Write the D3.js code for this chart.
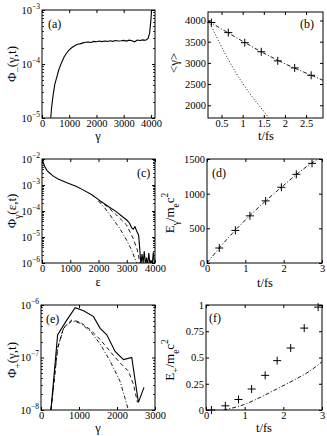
<!DOCTYPE html>
<html>
<head>
<meta charset="utf-8">
<script src="https://cdn.jsdelivr.net/npm/d3@7"></script>
<style>
  body { margin: 0; background: #fff; }
  svg { display: block; }
  svg text { font-family: "Liberation Serif", "DejaVu Serif", serif !important; fill: #000; }
</style>
</head>
<body>
<svg id="fig" width="327" height="436"></svg>
<script>
// Panel (a): spectrum Phi_-(gamma,t).
var aGamma = [320, 360, 415, 470, 538, 620, 722, 810, 905, 1000, 1100, 1200,
  1300, 1400, 1500, 1600, 1700, 1800, 1900, 2000, 2100, 2200, 2300, 2400,
  2500, 2600, 2700, 2800, 2900, 3000, 3100, 3200, 3300, 3400, 3500, 3600,
  3700, 3800, 3850, 3900, 3950, 4000, 4030, 4060];
var aPhi = [1.0e-5, 1.7e-5, 2.8e-5, 4.2e-5, 5.6e-5, 7.9e-5, 1.07e-4, 1.35e-4,
  1.6e-4, 1.82e-4, 2.02e-4, 2.18e-4, 2.32e-4, 2.36e-4, 2.46e-4, 2.52e-4,
  2.56e-4, 2.5e-4, 2.62e-4, 2.58e-4, 2.66e-4, 2.6e-4, 2.67e-4, 2.62e-4,
  2.7e-4, 2.63e-4, 2.72e-4, 2.67e-4, 2.7e-4, 2.74e-4, 2.66e-4, 2.76e-4,
  2.7e-4, 2.58e-4, 2.78e-4, 2.72e-4, 2.8e-4, 2.76e-4, 2.84e-4, 3.0e-4,
  3.7e-4, 6.5e-4, 1.1e-3, 1.5e-3];

// Panel (b): mean gamma vs time.
var bT = [0.26, 0.66, 1.05, 1.44, 1.83, 2.23, 2.62];
var bGamma = [3952, 3714, 3476, 3262, 3048, 2881, 2707];
var bFitT = [0.18, 0.5, 1.0, 1.5, 2.0, 2.5, 2.9];
var bFitGamma = [3990, 3800, 3510, 3230, 2980, 2760, 2590];
var bDotT = [0.2, 0.54, 0.85, 1.17, 1.48, 1.62];
var bDotGamma = [3990, 3305, 2750, 2276, 1880, 1700];

// Panel (c): photon spectrum.
var cEps = [0, 40, 100, 180, 270, 400, 570, 860, 1200, 1455, 1750, 2050, 2350,
  2640, 2850, 3000, 3100, 3170, 3230, 3290, 3350, 3420, 3470, 3500, 3540,
  3580, 3620, 3660, 3700, 3740, 3780, 3820, 3860, 3900, 3940, 3980];
var cPhi = [1.1e-2, 7.5e-3, 5.0e-3, 3.6e-3, 2.9e-3, 2.2e-3, 1.7e-3, 1.25e-3,
  9.0e-4, 6.5e-4, 4.3e-4, 2.5e-4, 1.5e-4, 9.3e-5, 6.0e-5, 4.5e-5, 3.4e-5,
  2.3e-5, 2.0e-5, 2.5e-5, 1.7e-5, 1.2e-5, 2.5e-6, 8e-7, 2.2e-6, 1.0e-6,
  2.8e-6, 9e-7, 1.6e-6, 8e-7, 2.4e-6, 9e-7, 1.3e-6, 8e-7, 2.6e-6, 9e-7];
var cDashEps = [2000, 2300, 2640, 2994, 3230, 3373, 3467];
var cDashPhi = [2.6e-4, 1.5e-4, 7.0e-5, 2.9e-5, 8.7e-6, 3.2e-6, 1e-6];
var cDotEps = [2000, 2200, 2402, 2757, 2994, 3170, 3350];
var cDotPhi = [2.4e-4, 1.4e-4, 7.1e-5, 2.1e-5, 7.6e-6, 3.2e-6, 1e-6];

// Panel (d): photon energy vs time.
var dT = [0.32, 0.74, 1.12, 1.53, 1.94, 2.33, 2.74];
var dE = [216, 470, 680, 896, 1092, 1279, 1437];
var dFitT = [0, 0.5, 1, 1.5, 2, 2.5, 3];
var dFitE = [0, 330, 620, 880, 1120, 1350, 1540];

// Panel (e): positron spectrum.
var eGamma = [262, 437, 682, 900, 1120, 1382, 1557, 1732, 1950, 2170, 2388,
  2563, 2710];
var ePhi = [1e-8, 2.7e-7, 5.2e-7, 8.9e-7, 7.8e-7, 6.0e-7, 3.6e-7, 2.7e-7,
  1.3e-7, 9.1e-8, 1.0e-7, 1.4e-8, 2.7e-8];
var eDashGamma = [262, 437, 595, 814, 1032, 1295, 1557, 1820, 2082, 2300,
  2432, 2537];
var eDashPhi = [1e-8, 1.5e-7, 3.7e-7, 5.2e-7, 4.7e-7, 3.4e-7, 2.2e-7, 1.3e-7,
  7.9e-8, 5.5e-8, 3.1e-8, 1.4e-8];
var eDotGamma = [262, 437, 595, 814, 1032, 1295, 1557, 1820, 2082, 2300];
var eDotPhi = [1e-8, 1.5e-7, 3.6e-7, 5.0e-7, 4.5e-7, 3.2e-7, 1.8e-7, 8.5e-8,
  3.5e-8, 1e-8];

// Panel (f): positron energy vs time.
var fT = [0.14, 0.5, 0.84, 1.18, 1.53, 1.84, 2.19, 2.54, 2.9];
var fE = [0, 0.04, 0.1, 0.2, 0.33, 0.47, 0.59, 0.78, 0.98];
var fFitT = [0.45, 0.97, 1.4, 1.83, 2.25, 2.68, 3.0];
var fFitE = [0, 0.05, 0.12, 0.2, 0.28, 0.37, 0.46];

var DASH = '4,3';
var DASHDOT = '4,2,1,2';
var DOT = '1,2';
var SERIF = '"Liberation Serif", "DejaVu Serif", serif';

var svg = d3.select('#fig');
svg.append('rect').attr('width', 327).attr('height', 436).attr('fill', '#fff');

/**
 * Writes a string with sub/superscripts into a text element.
 */
function richText(sel, parts, size) {
  var cur = 0;
  parts.forEach(function(p) {
    var shift = p[1] == 'sub' ? size * 0.35 : p[1] == 'sup' ? -size * 0.45 : 0;
    var ts = sel.append('tspan').attr('dy', shift - cur).text(p[0]);
    if (p[1]) ts.attr('font-size', size * 0.72);
    cur = shift;
  });
}

/**
 * Draws the box, ticks and labels of one panel.
 */
function drawPanel(p) {
  var x0 = p.box[0], y0 = p.box[1], x1 = p.box[2], y1 = p.box[3];
  var x = d3.scaleLinear().domain(p.xDomain).range([x0, x1]);
  var y = (p.yLog ? d3.scaleLog() : d3.scaleLinear())
      .domain(p.yDomain).range([y1, y0]);
  var g = svg.append('g').attr('class', 'panel-' + p.id);

  var xb = d3.axisBottom(x).tickValues(p.xTicks).tickSize(-3)
      .tickSizeOuter(0).tickPadding(2).tickFormat(p.xFormat || d3.format('d'));
  var xAxis = g.append('g').attr('transform', 'translate(0,' + y1 + ')')
      .call(xb).attr('font-size', 10.5).attr('font-family', SERIF);
  xAxis.select('.domain').remove();
  var xt = g.append('g').attr('transform', 'translate(0,' + y0 + ')')
      .call(d3.axisTop(x).tickValues(p.xTicks).tickSize(-3).tickSizeOuter(0)
      .tickFormat(''));
  xt.select('.domain').remove();

  var yTicks = p.yTicks;
  var yl = d3.axisLeft(y).tickValues(yTicks).tickSize(-3).tickSizeOuter(0)
      .tickPadding(2);
  if (!p.yLog) yl.tickFormat(p.yFormat || d3.format('d'));
  var yAxis = g.append('g').attr('transform', 'translate(' + x0 + ',0)')
      .call(yl).attr('font-size', 10.5).attr('font-family', SERIF);
  yAxis.select('.domain').remove();
  var yr = g.append('g').attr('transform', 'translate(' + x1 + ',0)')
      .call(d3.axisRight(y).tickValues(yTicks).tickSize(-3).tickSizeOuter(0)
      .tickFormat(''));
  yr.select('.domain').remove();

  if (p.yLog) {
    yAxis.selectAll('.tick text').text(null).each(function(d) {
      var t = d3.select(this);
      t.append('tspan').text('10');
      t.append('tspan').attr('dy', -5).attr('font-size', 7.5)
          .text('\u2212' + Math.round(-Math.log10(d)));
    });
    // minor ticks on log axis
    var minor = [];
    var lo = Math.round(Math.log10(p.yDomain[0]));
    var hi = Math.round(Math.log10(p.yDomain[1]));
    for (var e = lo; e < hi; e++) {
      for (var k = 2; k < 10; k++) minor.push(k * Math.pow(10, e));
    }
    g.selectAll('.minor').data(minor).enter().append('path')
        .attr('class', 'minor')
        .attr('d', function(v) {
          var yy = Math.round(y(v)) + 0.5;
          return 'M' + x0 + ',' + yy + 'h2M' + x1 + ',' + yy + 'h-2';
        })
        .attr('stroke', '#000').attr('stroke-width', 0.8);
  }

  g.selectAll('.tick line').attr('stroke', '#000');

  g.append('rect').attr('x', x0).attr('y', y0)
      .attr('width', x1 - x0).attr('height', y1 - y0)
      .attr('fill', 'none').attr('stroke', '#000').attr('stroke-width', 1);

  g.append('text').attr('x', p.tag[0]).attr('y', p.tag[1])
      .attr('font-size', 12).text(p.tagText);

  var xlab = g.append('text').attr('x', p.xLab[0]).attr('y', p.xLab[1])
      .attr('text-anchor', 'middle').attr('font-size', 12.5);
  richText(xlab, p.xLabText, 12.5);

  var ylab = g.append('text')
      .attr('transform', 'translate(' + p.yLab[0] + ',' + p.yLab[1] +
          ') rotate(-90)')
      .attr('text-anchor', 'middle').attr('font-size', 13);
  richText(ylab, p.yLabText, 13);

  var clipId = 'clip-' + p.id;
  svg.append('clipPath').attr('id', clipId).append('rect')
      .attr('x', x0).attr('y', y0).attr('width', x1 - x0)
      .attr('height', y1 - y0);
  var plot = g.append('g').attr('clip-path', 'url(#' + clipId + ')');
  return {plot: plot, g: g, x: x, y: y};
}

function addLine(panel, xs, ys, dash, curve) {
  var line = d3.line()
      .x(function(d) { return panel.x(d[0]); })
      .y(function(d) { return panel.y(d[1]); })
      .curve(curve || d3.curveLinear);
  panel.plot.append('path').datum(d3.zip(xs, ys))
      .attr('d', line).attr('fill', 'none').attr('stroke', '#000')
      .attr('stroke-width', dash ? 0.9 : 1.1)
      .attr('stroke-dasharray', dash || null);
}

function addPlus(panel, xs, ys) {
  panel.g.selectAll(null).data(d3.zip(xs, ys)).enter().append('path')
      .attr('d', function(d) {
        var px = panel.x(d[0]), py = panel.y(d[1]);
        return 'M' + (px - 4) + ',' + py + 'h8M' + px + ',' + (py - 4) + 'v8';
      })
      .attr('stroke', '#000').attr('stroke-width', 1).attr('fill', 'none');
}

// (a)
var pa = drawPanel({
  id: 'a', box: [42, 10, 155, 118], xDomain: [0, 4150],
  yDomain: [1e-5, 1e-3], yLog: true,
  xTicks: [0, 1000, 2000, 3000, 4000], yTicks: [1e-5, 1e-4, 1e-3],
  tag: [48, 28], tagText: '(a)',
  xLab: [98, 140], xLabText: [['\u03b3']],
  yLab: [16, 64], yLabText: [['\u03a6'], ['\u2212', 'sub'], ['(\u03b3,t)']]
});
addLine(pa, aGamma, aPhi);

// (b)
var pb = drawPanel({
  id: 'b', box: [208, 12, 323, 118], xDomain: [0.18, 2.9],
  yDomain: [1700, 4200],
  xTicks: [0.5, 1, 1.5, 2, 2.5], xFormat: d3.format('~g'),
  yTicks: [2000, 2500, 3000, 3500, 4000],
  tag: [300, 28], tagText: '(b)',
  xLab: [266, 140], xLabText: [['t/fs']],
  yLab: [178, 63], yLabText: [['<\u03b3>']]
});
addLine(pb, bFitT, bFitGamma, DASHDOT, d3.curveMonotoneX);
addLine(pb, bDotT, bDotGamma, DOT, d3.curveMonotoneX);
addPlus(pb, bT, bGamma);

// (c)
var pc = drawPanel({
  id: 'c', box: [42, 159, 155, 263], xDomain: [0, 4000],
  yDomain: [1e-6, 1e-2], yLog: true,
  xTicks: [0, 1000, 2000, 3000, 4000],
  yTicks: [1e-6, 1e-5, 1e-4, 1e-3, 1e-2],
  tag: [137, 177], tagText: '(c)',
  xLab: [98, 286], xLabText: [['\u03b5']],
  yLab: [16, 211], yLabText: [['\u03a6'], ['\u03b3', 'sub'], ['(\u03b5,t)']]
});
addLine(pc, cDotEps, cDotPhi, DASHDOT);
addLine(pc, cDashEps, cDashPhi, DASH);
addLine(pc, cEps, cPhi);

// (d)
var pd = drawPanel({
  id: 'd', box: [207, 159, 322, 263], xDomain: [0, 3], yDomain: [0, 1500],
  xTicks: [0, 1, 2, 3], yTicks: [0, 500, 1000, 1500],
  tag: [212, 177], tagText: '(d)',
  xLab: [265, 287], xLabText: [['t/fs']],
  yLab: [174, 213],
  yLabText: [['E'], ['\u03b3', 'sub'], ['/m'], ['e', 'sub'], ['c'], ['2', 'sup']]
});
addLine(pd, dFitT, dFitE, DASHDOT, d3.curveMonotoneX);
addPlus(pd, dT, dE);

// (e)
var pe = drawPanel({
  id: 'e', box: [41, 305, 155, 410], xDomain: [0, 3000],
  yDomain: [1e-8, 1e-6], yLog: true,
  xTicks: [0, 1000, 2000, 3000], yTicks: [1e-8, 1e-7, 1e-6],
  tag: [46, 323], tagText: '(e)',
  xLab: [98, 432], xLabText: [['\u03b3']],
  yLab: [16, 360], yLabText: [['\u03a6'], ['+', 'sub'], ['(\u03b3,t)']]
});
addLine(pe, eDotGamma, eDotPhi, DASHDOT);
addLine(pe, eDashGamma, eDashPhi, DASH);
addLine(pe, eGamma, ePhi);

// (f)
var pf = drawPanel({
  id: 'f', box: [206, 305, 322, 410], xDomain: [0, 3], yDomain: [0, 1],
  xTicks: [0, 1, 2, 3], yTicks: [0, 0.25, 0.5, 0.75, 1],
  yFormat: d3.format('~g'),
  tag: [209, 322], tagText: '(f)',
  xLab: [264, 432], xLabText: [['t/fs']],
  yLab: [174, 360],
  yLabText: [['E'], ['+', 'sub'], ['/m'], ['e', 'sub'], ['c'], ['2', 'sup']]
});
addLine(pf, fFitT, fFitE, DASHDOT, d3.curveMonotoneX);
addPlus(pf, fT, fE);
</script>
</body>
</html>
